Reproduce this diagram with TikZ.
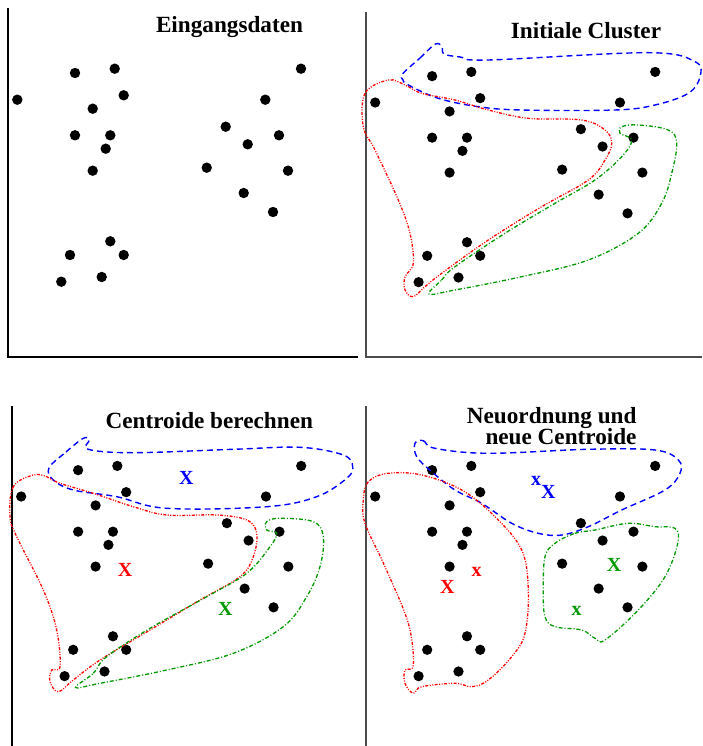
\documentclass[tikz,border=0pt]{standalone}
\usepackage{fontspec}
\setmainfont{Liberation Serif}
\usetikzlibrary{positioning}

\definecolor{clgreen}{rgb}{0,0.6,0}
\tikzset{
  axis/.style={black,line width=1.2pt},
  axisgray/.style={black!70,line width=1.1pt},
  cblue/.style={blue,line width=1.4pt,dash pattern=on 6pt off 4pt},
  cred/.style={red,line width=1.3pt,dash pattern=on 3pt off 1.5pt on 1pt off 1.5pt on 1pt off 1.5pt},
  cgreen/.style={clgreen,line width=1.3pt,dash pattern=on 4pt off 2pt on 1pt off 2pt},
  title/.style={font=\fontsize{23.2}{21}\selectfont\bfseries,inner sep=0pt,anchor=base},
  bigX/.style={font=\fontsize{20}{20}\selectfont\bfseries,inner sep=0pt},
}

% the same data in every panel
\newcommand{\datapoints}{%
  \foreach \px/\py in {67/65,106.7/60.7,9.3/91.7,115.7/87.3,84.7/100.7,67/127.3,
      102.3/127.3,97.7/140.7,84.7/162.7,293/60.7,257.3/91.7,217.7/118.7,271/127.3,
      239.7/136.3,198.7/159.7,280/162.7,235.7/185,265/204,102.3/233.3,62/247,
      115.7/247,53.3/273.7,93.7/269}
    \fill (\px,\py) circle (5.2);
}

\begin{document}
\begin{tikzpicture}[x=1pt,y=-1pt]
 \useasboundingbox (0,0) rectangle (702,746);

 % axes
 \draw[axis] (8,8) -- (8,357) -- (358,357);
 \draw[axisgray] (366,12) -- (366,357) -- (702,357);
 \draw[axis] (12,406) -- (12,746);
 \draw[axisgray] (366,406) -- (366,746);

 % points
 \begin{scope}[shift={(8,8)}]
  \datapoints
 \end{scope}
 \begin{scope}[shift={(366,12)},scale=0.987]
  \datapoints
 \end{scope}
 \begin{scope}[shift={(12,406)},scale=0.987]
  \datapoints
 \end{scope}
 \begin{scope}[shift={(366,406)},scale=0.987]
  \datapoints
 \end{scope}

 % titles
 \node[title] (tEin) at (229.5,33) {Eingangsdaten};
 \node[title] (tIni) at (586,38.3) {Initiale Cluster};
 \node[title] (tCen) at (209.3,428.3) {Centroide berechnen};
 \node[title,anchor=base east] (tNeu) at (636.7,423.3) {Neuordnung und};
 \node[title,anchor=base east] (tNeuC) at (636.7,444.3) {neue Centroide};

 % initial clusters
 \draw[cblue] plot[smooth cycle,tension=0.6] coordinates {(402.5,74) (420,58) (435.5,44)
   (442,47) (444,54) (460,57) (488.3,60) (648.3,52.7) (695,61.7) (700,76.7) (688.3,93.3)
   (655,105) (615,110) (521.7,110) (478.3,106.7) (438.3,98.3) (408.3,85) (403,80)};
 \draw[cred] plot[smooth cycle,tension=0.6] coordinates {(388.3,80) (365,93.3) (363.3,126.7)
   (375,150) (398.3,200) (410,233.3) (413.3,263.3) (405,276.7) (405,290) (413.3,296.7)
   (425,286.7) (441.7,273.3) (488.3,240) (541.7,206.7) (588.3,180) (605,160) (611.7,143.3)
   (605,130) (581.7,120) (528.3,118.3) (488.3,110) (455,100) (421.7,93.3) (405,85)};
 \draw[cgreen] plot[smooth cycle,tension=0.6] coordinates {(429,294) (441.7,280) (455,266.7)
   (505,233.3) (555,203.3) (595,180) (621.7,156.7) (631.7,140) (620,133.3) (621.7,126.7)
   (638.3,125) (668.3,130) (676.7,143.3) (671.7,173.3) (661.7,203.3) (638.3,233.3)
   (588.3,260) (521.7,276.7) (455,290)};

 % centroids computed
 \draw[cblue] plot[smooth cycle,tension=0.6] coordinates {(49,468) (66,452) (83.3,438.3) (89.3,440)
   (88.3,449.3) (133.3,452.7) (233.3,449.3) (300,447.3) (343.3,455) (352.7,466.7)
   (346.7,478.3) (316.7,496.7) (266.7,506.7) (166.7,508.3) (116.7,496.7) (73.3,490) (53.3,480)};
 \draw[cred] plot[smooth cycle,tension=0.6] coordinates {(33.3,475) (13.3,486.7) (10,516.7)
   (16.7,536.7) (43.3,590) (56.7,630) (60,666.7) (51.7,670) (50,681.7) (58.3,691.7)
   (73.3,680) (100,660) (150,630) (200,600) (240,576.7) (253.3,556.7) (256.7,533.3)
   (246.7,520) (216.7,515) (166.7,515) (133.3,506.7) (93.3,493.3) (60,483.3) (46.7,476.7)};
 \draw[cgreen] plot[smooth cycle,tension=0.6] coordinates {(75.5,687.5) (93.3,673.3) (106.7,656.7)
   (150,628.3) (206.7,596.7) (246.7,573.3) (270,546.7) (276.7,533.3) (266.7,530)
   (266.7,521.7) (280,518.3) (313.3,521.7) (323.3,536.7) (320,566.7) (306.7,596.7)
   (283.3,626.7) (233.3,653.3) (166.7,670) (100,683.3)};
 \node[bigX,text=blue] (xB) at (186.3,478.3) {X};
 \node[bigX,text=red] (xR) at (125,570.3) {X};
 \node[bigX,text=clgreen] (xG) at (225.3,609.2) {X};

 % new clusters
 \draw[cblue] plot[smooth cycle,tension=0.6] coordinates {(415,443.3) (423.3,440.7) (435,448.3)
   (488.3,453.3) (588.3,449.3) (655,450) (678.3,460) (680,473.3) (665,490) (621.7,510)
   (588.3,526.7) (561.7,535) (538.3,533.3) (511.7,523.3) (481.7,503.3) (455,490)
   (431.7,471.7) (416.7,456.7)};
 \draw[cred] plot[smooth cycle,tension=0.6] coordinates {(388.3,473.3) (368.3,481.7) (363.3,500)
   (365,523.3) (385,566.7) (408.3,623.3) (413.3,665) (405,670) (405,683.3) (413.3,693.3)
   (421.7,686.7) (455,683.3) (471.7,686.7) (488.3,680) (511.7,656.7) (525,633.3)
   (528.3,590) (521.7,550) (495,516.7) (461.7,490) (421.7,475)};
 \draw[cgreen] plot[smooth cycle,tension=0.6] coordinates {(555,543.3) (575,533.3) (595,530)
   (628.3,523.3) (655,526.7) (675,528.3) (677.7,543.3) (665,576.7) (638.3,610) (605,640)
   (595,638.3) (581.7,630) (555,626.7) (545,616.7) (543.3,590) (545,556.7)};
 \node[bigX,text=blue] (xBold) at (536,480.7) {x};
 \node[bigX,text=blue] (xBnew) at (548.3,491.7) {X};
 \node[bigX,text=red] (xRold) at (476.7,571.7) {x};
 \node[bigX,text=red] (xRnew) at (447.3,586.7) {X};
 \node[bigX,text=clgreen] (xGnew) at (614,565) {X};
 \node[bigX,text=clgreen] (xGold) at (576.7,610.7) {x};
\end{tikzpicture}
\end{document}
